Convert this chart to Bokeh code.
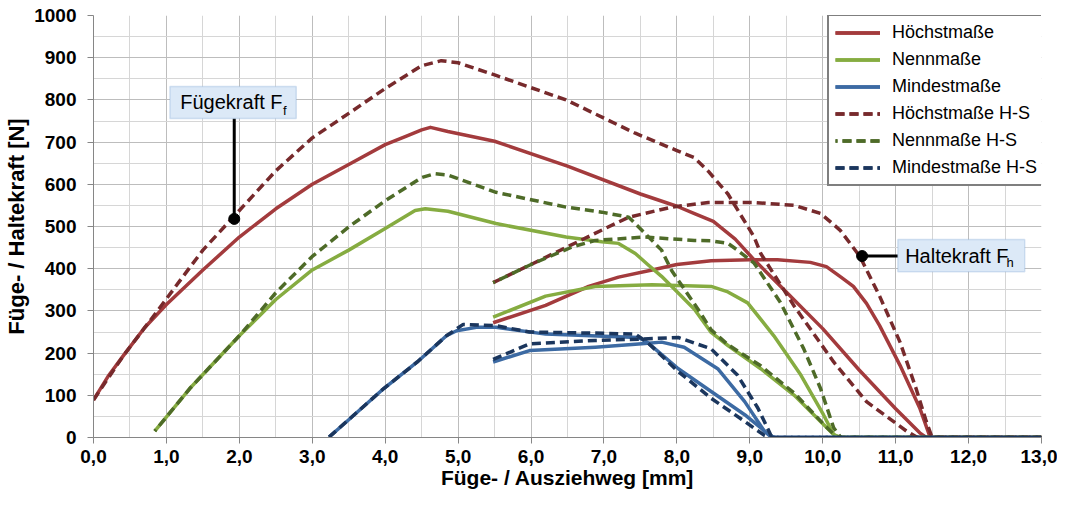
from bokeh.plotting import figure
from bokeh.models import FixedTicker, Range1d, BoxAnnotation, Label, Legend
from bokeh.embed import file_html
from bokeh.resources import INLINE

# ---------------- data ----------------
series_names = ["Höchstmaße", "Nennmaße", "Mindestmaße",
                "Höchstmaße H-S", "Nennmaße H-S", "Mindestmaße H-S"]

# Höchstmaße
hoechst_fuege_x = [0.0, 0.2, 0.41, 0.7, 1.0, 1.5, 2.0, 2.5, 3.0, 3.5, 4.0, 4.3, 4.5, 4.62, 4.86, 5.5, 6.5, 7.5, 8.0, 8.25, 8.5, 8.8, 9.06, 9.5, 10.0, 10.5, 11.0, 11.33, 11.42, 13.0]
hoechst_fuege_y = [89, 145, 194, 260, 315, 397, 475, 542, 600, 647, 694, 715, 729, 735, 725, 702, 643, 577, 548, 530, 512, 470, 421, 345, 258, 160, 68, 11, 0, 0]
hoechst_halte_x = [5.48, 6.2, 6.79, 7.2, 7.66, 8.0, 8.47, 9.0, 9.38, 9.83, 10.05, 10.25, 10.42, 10.6, 10.78, 11.06, 11.33, 11.46, 11.5, 13.0]
hoechst_halte_y = [272, 313, 358, 380, 397, 410, 419, 421, 421, 415, 405, 380, 358, 318, 265, 171, 70, 7, 0, 0]

# Nennmaße
nenn_fuege_x = [0.84, 1.32, 2.0, 2.5, 3.0, 3.5, 4.0, 4.41, 4.55, 4.86, 5.52, 6.48, 6.97, 7.2, 7.43, 7.6, 7.79, 7.93, 8.24, 8.47, 8.7, 9.15, 9.61, 9.97, 10.15, 10.22, 13.0]
nenn_fuege_y = [15, 116, 241, 327, 397, 444, 495, 538, 542, 536, 507, 475, 464, 460, 436, 410, 382, 358, 304, 249, 218, 163, 100, 38, 7, 0, 0]
nenn_halte_x = [5.48, 6.2, 6.88, 7.66, 8.47, 8.7, 8.97, 9.33, 9.7, 10.01, 10.15, 10.25, 13.0]
nenn_halte_y = [285, 335, 358, 362, 358, 345, 319, 241, 148, 54, 7, 0, 0]

# Mindestmaße
mind_fuege_x = [3.23, 3.5, 3.98, 4.44, 4.84, 4.98, 5.25, 5.52, 6.2, 7.0, 7.47, 7.6, 8.02, 8.47, 8.93, 9.29, 9.35, 13.0]
mind_fuege_y = [1, 42, 116, 179, 241, 253, 261, 261, 245, 240, 237, 225, 163, 109, 54, 3, 0, 0]
mind_halte_x = [5.48, 5.98, 6.88, 7.52, 7.79, 8.1, 8.56, 8.93, 9.2, 9.3, 13.0]
mind_halte_y = [179, 206, 214, 222, 226, 214, 163, 85, 15, 0, 0]

# Höchstmaße H-S
hoechst_hs_fuege_x = [0.0, 0.41, 0.86, 1.23, 1.5, 2.0, 2.5, 3.0, 3.5, 4.0, 4.5, 4.77, 5.0, 5.52, 6.48, 7.43, 8.0, 8.24, 8.43, 8.7, 9.06, 9.15, 9.61, 10.15, 10.6, 11.15, 11.3, 13.0]
hoechst_hs_fuege_y = [89, 194, 296, 382, 444, 538, 632, 710, 768, 827, 881, 893, 888, 858, 800, 721, 680, 663, 631, 577, 475, 436, 311, 179, 85, 15, 0, 0]
hoechst_hs_halte_x = [5.48, 6.0, 6.5, 7.0, 7.34, 7.93, 8.43, 9.06, 9.61, 9.97, 10.24, 10.51, 10.78, 11.06, 11.28, 11.42, 11.5, 13.0]
hoechst_hs_halte_y = [367, 410, 452, 494, 522, 546, 557, 557, 550, 531, 491, 429, 335, 226, 116, 38, 0, 0]

# Nennmaße H-S
nenn_hs_fuege_x = [0.84, 1.32, 2.0, 2.5, 3.0, 3.5, 4.0, 4.5, 4.68, 4.86, 5.52, 6.48, 6.97, 7.34, 7.52, 7.79, 7.93, 8.29, 8.47, 8.7, 9.15, 9.61, 10.06, 10.2, 13.0]
nenn_hs_fuege_y = [15, 116, 241, 343, 429, 499, 561, 616, 625, 622, 581, 546, 534, 522, 491, 444, 395, 304, 255, 220, 170, 105, 23, 0, 0]
nenn_hs_halte_x = [5.48, 6.0, 6.57, 6.88, 7.56, 8.24, 8.47, 8.7, 8.83, 9.06, 9.42, 9.74, 9.97, 10.15, 10.25, 13.0]
nenn_hs_halte_y = [367, 410, 452, 467, 475, 467, 466, 460, 444, 413, 320, 210, 116, 23, 0, 0]

# Mindestmaße H-S
mind_hs_fuege_x = [3.23, 3.98, 4.44, 4.84, 5.07, 5.52, 5.98, 7.0, 7.43, 7.6, 8.02, 8.47, 8.93, 9.2, 9.3, 13.0]
mind_hs_fuege_y = [1, 116, 179, 241, 268, 265, 250, 247, 245, 225, 156, 93, 38, 5, 0, 0]
mind_hs_halte_x = [5.48, 5.98, 6.88, 7.47, 8.02, 8.47, 8.83, 9.11, 9.29, 9.35, 13.0]
mind_hs_halte_y = [185, 222, 230, 233, 237, 210, 148, 70, 5, 0, 0]

x_ticks = list(range(0, 14))
x_tick_labels = {i: f"{i},0" for i in x_ticks}
y_ticks = list(range(0, 1001, 100))

# ---------------- styles ----------------
colors = ["#A33B3D", "#86AC41", "#3C6AA3", "#772A2C", "#4E6B28", "#1B365D"]
dashes = ["solid", "solid", "solid", "9 5", "9 5", "9 5"]
dash_offsets = [0, 0, 0, 0, 7, 0]
segments = [
    [(hoechst_fuege_x, hoechst_fuege_y), (hoechst_halte_x, hoechst_halte_y)],
    [(nenn_fuege_x, nenn_fuege_y), (nenn_halte_x, nenn_halte_y)],
    [(mind_fuege_x, mind_fuege_y), (mind_halte_x, mind_halte_y)],
    [(hoechst_hs_fuege_x, hoechst_hs_fuege_y), (hoechst_hs_halte_x, hoechst_hs_halte_y)],
    [(nenn_hs_fuege_x, nenn_hs_fuege_y), (nenn_hs_halte_x, nenn_hs_halte_y)],
    [(mind_hs_fuege_x, mind_hs_fuege_y), (mind_hs_halte_x, mind_hs_halte_y)],
]

FONT = "Liberation Sans"

p = figure(width=1057, height=495, output_backend="svg", toolbar_location=None,
           x_range=Range1d(0, 13), y_range=Range1d(0, 1000),
           min_border_left=93, min_border_right=16, min_border_top=15, min_border_bottom=58)
p.outline_line_color = None
p.background_fill_color = "white"
p.border_fill_color = "white"

xt = FixedTicker(ticks=x_ticks, minor_ticks=[i + 0.5 for i in range(13)])
yt = FixedTicker(ticks=y_ticks, minor_ticks=[i + 50 for i in range(0, 1000, 100)])
p.xaxis.ticker = xt
p.yaxis.ticker = yt
p.xgrid.ticker = xt
p.ygrid.ticker = yt
for g in (p.xgrid, p.ygrid):
    g.grid_line_color = "#BDBDBD"
    g.grid_line_width = 1
    g.minor_grid_line_color = "#D6D6D6"
    g.minor_grid_line_width = 1

p.xaxis.major_label_overrides = x_tick_labels
for ax in (p.xaxis, p.yaxis):
    ax.axis_line_color = "#868686"
    ax.axis_line_width = 1
    ax.major_tick_line_color = "#868686"
    ax.major_tick_out = 6
    ax.major_tick_in = 0
    ax.minor_tick_line_color = None
    ax.major_label_text_font = FONT
    ax.major_label_text_font_style = "bold"
    ax.major_label_text_color = "black"
    ax.axis_label_text_font = FONT
    ax.axis_label_text_font_style = "bold"
    ax.axis_label_text_color = "black"

p.xaxis.major_label_text_font_size = "19px"
p.yaxis.major_label_text_font_size = "19px"
p.xaxis.major_label_standoff = 6
p.yaxis.major_label_standoff = 11
p.xaxis.axis_label = "Füge- / Ausziehweg [mm]"
p.yaxis.axis_label = "Füge- / Haltekraft [N]"
p.xaxis.axis_label_text_font_size = "21px"
p.yaxis.axis_label_text_font_size = "22px"
p.xaxis.axis_label_standoff = 0
p.yaxis.axis_label_standoff = 2

items = []
for name, col, dash, off, segs in zip(series_names, colors, dashes, dash_offsets, segments):
    rs = []
    for sx, sy in segs:
        r = p.line(sx, sy, line_color=col, line_width=3.5, line_dash=dash,
                   line_dash_offset=off, line_join="round", line_cap="butt")
        rs.append(r)
    items.append((name, rs))

legend = Legend(items=items, location=(734, 251))
legend.label_text_font = FONT
legend.label_text_font_size = "18px"
legend.label_text_color = "black"
legend.border_line_color = "black"
legend.border_line_width = 2
legend.background_fill_color = "white"
legend.background_fill_alpha = 1
legend.padding = 6
legend.spacing = 6
legend.margin = 0
legend.glyph_width = 45
legend.glyph_height = 21
legend.label_height = 21
legend.label_width = 160
legend.label_standoff = 12
p.add_layout(legend)

# ---------------- annotations ----------------
box_fill = "#DCE9F7"
box_line = "#7FA6D3"

# Fügekraft
p.line([1.93, 1.93], [756, 518], line_color="black", line_width=3)
p.scatter([1.93], [518], size=11, color="black")
p.add_layout(BoxAnnotation(left=1.048, right=2.78, top=832, bottom=756,
                           fill_color=box_fill, fill_alpha=1,
                           line_color=box_line, line_width=1.5))
p.add_layout(Label(x=1.19, y=795, text="Fügekraft F", text_font=FONT,
                   text_font_size="20px", text_baseline="middle", text_align="left",
                   text_color="black"))
p.add_layout(Label(x=2.60, y=776, text="f", text_font=FONT,
                   text_font_size="13px", text_baseline="middle", text_align="left",
                   text_color="black"))

# Haltekraft
p.line([10.54, 11.03], [430, 430], line_color="black", line_width=3)
p.scatter([10.54], [430], size=11, color="black")
p.add_layout(BoxAnnotation(left=11.03, right=12.77, top=469, bottom=393,
                           fill_color=box_fill, fill_alpha=1,
                           line_color=box_line, line_width=1.5))
p.add_layout(Label(x=11.13, y=430, text="Haltekraft F", text_font=FONT,
                   text_font_size="20px", text_baseline="middle", text_align="left",
                   text_color="black"))
p.add_layout(Label(x=12.52, y=414, text="h", text_font=FONT,
                   text_font_size="13px", text_baseline="middle", text_align="left",
                   text_color="black"))

open("out.html", "w").write(file_html(p, INLINE))
